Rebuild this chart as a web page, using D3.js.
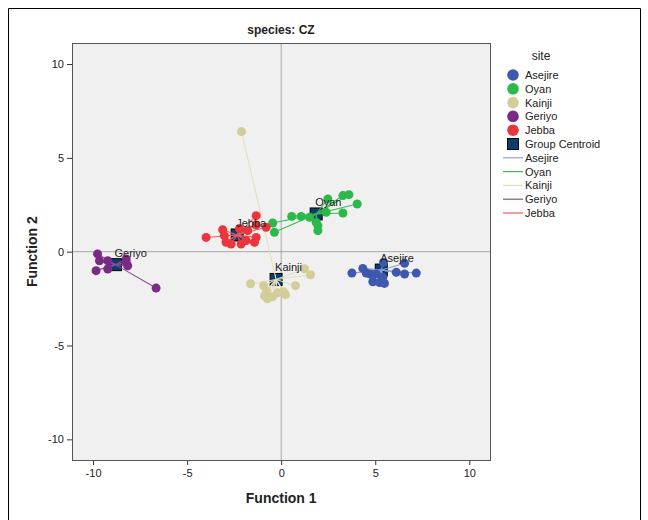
<!DOCTYPE html>
<html>
<head>
<meta charset="utf-8">
<script src="https://cdn.jsdelivr.net/npm/d3@7"></script>
<style>
  body { margin: 0; background: #fff; }
  svg { font-family: "Liberation Sans", Arial, sans-serif; }
</style>
</head>
<body>
<svg id="chart" width="648" height="520"></svg>
<script>
// sites and colours
let sites = ["Asejire", "Oyan", "Kainji", "Geriyo", "Jebba"];
let pointColors = ["#3f57ad", "#2db84a", "#d3cd9a", "#7a2a85", "#eb353c"];
let lineColors = ["#8d9fd8", "#3cb952", "#e3e0bd", "#8c4e97", "#ef5a60"];

// discriminant scores [Function 1, Function 2]
let asejire = [[3.76, -1.14], [4.34, -0.89], [4.52, -1.14], [4.73, -1.19], [4.87, -1.60],
    [5.23, -1.64], [5.49, -1.69], [5.40, -1.37], [5.44, -0.57], [6.56, -0.62],
    [6.56, -1.19], [7.18, -1.14], [6.12, -1.10], [5.05, -1.19]];
let oyan = [[-0.45, 1.53], [-0.36, 1.03], [0.56, 1.88], [1.06, 1.88], [1.51, 1.83],
    [1.95, 1.39], [1.95, 1.12], [1.86, 1.56], [2.39, 2.10], [2.48, 2.81],
    [3.28, 2.99], [3.60, 3.04], [4.04, 2.54], [3.28, 2.06]];
let kainji = [[-1.63, -1.71], [-0.94, -1.81], [-0.78, -2.08], [-0.89, -2.35], [-0.73, -2.51],
    [-0.46, -2.40], [-0.20, -2.19], [0.12, -2.13], [0.23, -2.29], [0.76, -1.81],
    [1.24, -0.91], [1.56, -1.23], [-2.11, 6.40]];
let geriyo = [[-9.76, -0.12], [-9.66, -0.48], [-9.84, -1.01], [-9.22, -0.92], [-9.22, -0.48],
    [-8.24, -0.39], [-8.16, -0.75], [-8.24, -0.56], [-6.65, -1.94]];
let jebba = [[-3.99, 0.76], [-3.11, 1.17], [-3.02, 0.85], [-2.93, 0.50], [-2.66, 0.41],
    [-2.13, 0.41], [-1.86, 0.59], [-1.33, 1.92], [-1.33, 1.42], [-1.33, 0.76],
    [-1.42, 0.50], [-1.78, 1.12], [-0.80, 1.30], [-2.22, 1.23]];

// group centroids, same order as sites
let centroids = [[5.32, -0.98], [1.86, 2.01], [-0.27, -1.48], [-8.81, -0.69], [-2.34, 0.89]];

let xTicks = [-10, -5, 0, 5, 10];
let yTicks = [-10, -5, 0, 5, 10];

let groups = [asejire, oyan, kainji, geriyo, jebba];

let svg = d3.select("#chart");

// outer frame
svg.append("path")
    .attr("d", "M8.5,530V8.5H640.5V530")
    .attr("fill", "none")
    .attr("stroke", "#000")
    .attr("stroke-width", 1);

let plotL = 72, plotR = 490, plotT = 43, plotB = 460;

let x = d3.scaleLinear().domain([-11.12, 11.1]).range([plotL, plotR]);
let y = d3.scaleLinear().domain([-11.1, 11.12]).range([plotB, plotT]);

svg.append("rect")
    .attr("x", plotL).attr("y", plotT)
    .attr("width", plotR - plotL).attr("height", plotB - plotT)
    .attr("fill", "#f0f0f0");

// reference lines
svg.append("line")
    .attr("x1", x(0)).attr("x2", x(0)).attr("y1", plotT).attr("y2", plotB)
    .attr("stroke", "#a8a8a8");
svg.append("line")
    .attr("x1", plotL).attr("x2", plotR).attr("y1", y(0)).attr("y2", y(0))
    .attr("stroke", "#a8a8a8");

let fmt = d => String(d);  // plain hyphen like the original
let gx = svg.append("g")
    .attr("transform", "translate(0," + plotB + ")")
    .call(d3.axisBottom(x).tickValues(xTicks).tickFormat(fmt).tickSize(5).tickPadding(4));
let gy = svg.append("g")
    .attr("transform", "translate(" + plotL + ",0)")
    .call(d3.axisLeft(y).tickValues(yTicks).tickFormat(fmt).tickSize(5).tickPadding(3));
[gx, gy].forEach(g => {
    g.select(".domain").remove();
    g.selectAll("line").attr("stroke", "#333");
    g.selectAll("text").attr("fill", "#222").style("font-size", "11px")
        .style("font-family", "'Liberation Sans', Arial, sans-serif");
});

svg.append("rect")
    .attr("x", plotL + 0.5).attr("y", plotT + 0.5)
    .attr("width", plotR - plotL).attr("height", plotB - plotT)
    .attr("fill", "none").attr("stroke", "#555");

// centroid squares
let plot = svg.append("g");
plot.selectAll("rect.centroid")
    .data(centroids)
    .enter().append("rect")
    .attr("class", "centroid")
    .attr("x", d => x(d[0]) - 6)
    .attr("y", d => y(d[1]) - 6)
    .attr("width", 12).attr("height", 12)
    .attr("fill", "#0b3e6e")
    .attr("stroke", "#000")
    .attr("stroke-width", 1);

// lines from each case to its centroid
groups.forEach((pts, i) => {
    let c = centroids[i];
    plot.selectAll(null)
        .data(pts)
        .enter().append("line")
        .attr("x1", d => x(d[0])).attr("y1", d => y(d[1]))
        .attr("x2", x(c[0])).attr("y2", y(c[1]))
        .attr("stroke", lineColors[i])
        .attr("stroke-width", 1.1);
});

// points
groups.forEach((pts, i) => {
    plot.selectAll(null)
        .data(pts)
        .enter().append("circle")
        .attr("cx", d => x(d[0])).attr("cy", d => y(d[1]))
        .attr("r", 4.5)
        .attr("fill", pointColors[i]);
});

// centroid labels
plot.selectAll("text.clabel")
    .data(centroids)
    .enter().append("text")
    .attr("class", "clabel")
    .attr("x", d => x(d[0]) - 1)
    .attr("y", d => y(d[1]) - 8)
    .attr("fill", "#222")
    .style("font-size", "11px")
    .text((d, i) => sites[i]);

// titles
svg.append("text")
    .attr("x", 281).attr("y", 34)
    .attr("text-anchor", "middle")
    .style("font-size", "12px").style("font-weight", "bold")
    .attr("fill", "#222")
    .text("species: CZ");

svg.append("text")
    .attr("x", x(0)).attr("y", 503)
    .attr("text-anchor", "middle")
    .style("font-size", "14px").style("font-weight", "bold")
    .attr("fill", "#222")
    .text("Function 1");

svg.append("text")
    .attr("transform", "translate(37," + y(0) + ") rotate(-90)")
    .attr("text-anchor", "middle")
    .style("font-size", "14px").style("font-weight", "bold")
    .attr("fill", "#222")
    .text("Function 2");

// legend
let legend = svg.append("g");
legend.append("text")
    .attr("x", 541).attr("y", 60)
    .attr("text-anchor", "middle")
    .style("font-size", "12px")
    .attr("fill", "#222")
    .text("site");

let step = 13.8, ly0 = 75;
sites.forEach((s, i) => {
    let yy = ly0 + i * step;
    legend.append("circle")
        .attr("cx", 513).attr("cy", yy).attr("r", 5.8)
        .attr("fill", pointColors[i]);
    legend.append("text")
        .attr("x", 525).attr("y", yy + 4)
        .style("font-size", "11px").attr("fill", "#222")
        .text(s);
});
let sqY = ly0 + 5 * step;
legend.append("rect")
    .attr("x", 507.5).attr("y", sqY - 5.5)
    .attr("width", 11).attr("height", 11)
    .attr("fill", "#0b3e6e").attr("stroke", "#000");
legend.append("text")
    .attr("x", 525).attr("y", sqY + 4)
    .style("font-size", "11px").attr("fill", "#222")
    .text("Group Centroid");
sites.forEach((s, i) => {
    let yy = ly0 + (6 + i) * step;
    legend.append("line")
        .attr("x1", 503).attr("x2", 523).attr("y1", yy).attr("y2", yy)
        .attr("stroke", lineColors[i]).attr("stroke-width", 1.2);
    legend.append("text")
        .attr("x", 525).attr("y", yy + 4)
        .style("font-size", "11px").attr("fill", "#222")
        .text(s);
});
</script>
</body>
</html>
